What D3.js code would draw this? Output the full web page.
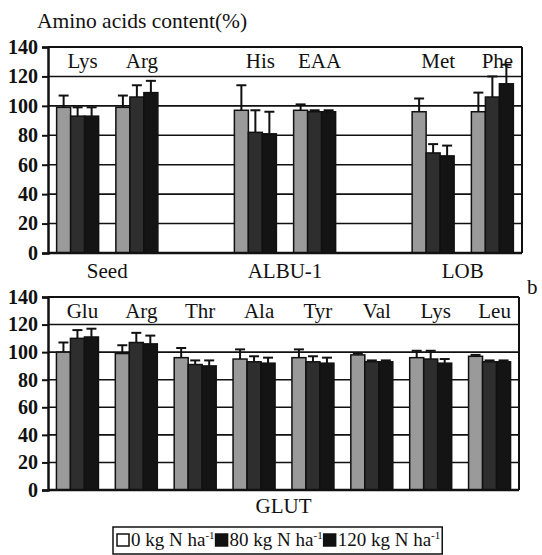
<!DOCTYPE html>
<html>
<head>
<style>
  body { margin: 0; background: #fff; }
  text { font-family: "Liberation Serif", "Times New Roman", serif; fill: #111; }
</style>
<script src="https://d3js.org/d3.v7.min.js"></script>
</head>
<body>
<svg id="chart" width="542" height="555"></svg>
<script>
// series (nitrogen rates)
var seriesNames = ["0 kg N ha", "80 kg N ha", "120 kg N ha"];
var seriesFill = ["#9a9a9a", "#2e2e2e", "#141414"];

// panel a - groups and amino acids
var topGroups = ["Seed", "ALBU-1", "LOB"];
var topCats = ["Lys", "Arg", "His", "EAA", "Met", "Phe"];
var topGroupOf = ["Seed", "Seed", "ALBU-1", "ALBU-1", "LOB", "LOB"];
var top0 = [99, 99, 97, 97, 96, 96];
var top80 = [93, 106, 82, 96, 68, 106];
var top120 = [93, 109, 81, 96, 66, 115];
var topErr0 = [8, 8, 17, 4, 9, 13];
var topErr80 = [6, 8, 15, 1, 6, 14];
var topErr120 = [6, 8, 15, 1, 7, 13];

// panel b - GLUT
var botGroups = ["GLUT"];
var botCats = ["Glu", "Arg", "Thr", "Ala", "Tyr", "Val", "Lys", "Leu"];
var bot0 = [100, 99, 96, 95, 96, 98, 96, 97];
var bot80 = [110, 107, 91, 93, 93, 93, 95, 93];
var bot120 = [111, 106, 90, 92, 92, 93, 92, 93];
var botErr0 = [7, 6, 7, 7, 6, 1, 5, 1];
var botErr80 = [6, 7, 3, 4, 4, 1, 6, 1];
var botErr120 = [6, 6, 4, 4, 4, 1, 3, 1];

var yTicks = [0, 20, 40, 60, 80, 100, 120, 140];
var serif = "'Liberation Serif', 'Times New Roman', serif";

var svg = d3.select("#chart");

svg.append("text")
  .attr("x", 37).attr("y", 28)
  .style("font-family", serif).style("font-size", "21.5px")
  .text("Amino acids content(%)");

function drawPanel(opt) {
  // slots: categories with an empty slot between groups
  var slots = [];
  opt.cats.forEach(function(c, i) {
    if (i > 0 && opt.groupOf[i] !== opt.groupOf[i - 1]) slots.push("gap" + i);
    slots.push(c + i);
  });
  var x = d3.scaleBand().domain(slots).range([opt.x0, opt.x1]);
  var y = d3.scaleLinear().domain([0, 140]).range([opt.yb, opt.yt]);
  var groupW = 42;
  var inner = d3.scaleBand().domain([0, 1, 2])
    .range([(x.bandwidth() - groupW) / 2, (x.bandwidth() + groupW) / 2]);

  var g = svg.append("g");

  // gridlines / frame
  g.selectAll(".grid").data(yTicks.slice(1)).enter().append("line")
    .attr("x1", opt.x0).attr("x2", opt.x1)
    .attr("y1", function(d) { return y(d); }).attr("y2", function(d) { return y(d); })
    .attr("stroke", "#111").attr("stroke-width", function(d) { return d === 140 ? 2 : 1.6; });
  g.append("line").attr("x1", opt.x1).attr("x2", opt.x1)
    .attr("y1", y(140)).attr("y2", y(0)).attr("stroke", "#111").attr("stroke-width", 2);

  // bars
  var vals = [opt.v0, opt.v1, opt.v2];
  var errs = [opt.e0, opt.e1, opt.e2];
  opt.cats.forEach(function(c, i) {
    var bx = x(c + i);
    [0, 1, 2].forEach(function(s) {
      var v = vals[s][i], e = errs[s][i];
      var cx = bx + inner(s) + inner.bandwidth() / 2;
      g.append("line").attr("x1", cx).attr("x2", cx)
        .attr("y1", y(v)).attr("y2", y(v + e))
        .attr("stroke", "#111").attr("stroke-width", 2);
      g.append("line").attr("x1", cx - 5).attr("x2", cx + 5)
        .attr("y1", y(v + e)).attr("y2", y(v + e))
        .attr("stroke", "#111").attr("stroke-width", 2);
      g.append("rect")
        .attr("x", bx + inner(s)).attr("width", inner.bandwidth())
        .attr("y", y(v)).attr("height", y(0) - y(v))
        .attr("fill", seriesFill[s]).attr("stroke", "#111").attr("stroke-width", 1.5);
    });
    g.append("text")
      .attr("x", bx + x.bandwidth() / 2 + 5).attr("y", y(140) + 21)
      .attr("text-anchor", "middle")
      .style("font-family", serif).style("font-size", "21px")
      .text(c);
  });

  // group labels
  opt.groups.forEach(function(gr) {
    var idx = opt.cats.map(function(c, i) { return i; })
      .filter(function(i) { return opt.groupOf[i] === gr; });
    var a = x(opt.cats[idx[0]] + idx[0]);
    var b = x(opt.cats[idx[idx.length - 1]] + idx[idx.length - 1]) + x.bandwidth();
    g.append("text")
      .attr("x", (a + b) / 2).attr("y", opt.labelY)
      .attr("text-anchor", "middle")
      .style("font-family", serif).style("font-size", "21px")
      .text(gr);
  });

  // y axis
  var ax = d3.axisLeft(y).tickValues(yTicks).tickSize(6).tickPadding(4);
  var axg = g.append("g").attr("transform", "translate(" + opt.x0 + ",0)").call(ax);
  axg.select(".domain").attr("stroke", "#111").attr("stroke-width", 2.5);
  axg.selectAll(".tick line").attr("stroke", "#111").attr("stroke-width", 2);
  axg.selectAll(".tick text")
    .style("font-family", serif)
    .style("font-size", "20px").style("font-weight", "bold").attr("fill", "#111");
  // x baseline
  g.append("line").attr("x1", opt.x0).attr("x2", opt.x1)
    .attr("y1", y(0)).attr("y2", y(0)).attr("stroke", "#111").attr("stroke-width", 2.5);
}

drawPanel({
  cats: topCats, groupOf: topGroupOf, groups: topGroups,
  v0: top0, v1: top80, v2: top120, e0: topErr0, e1: topErr80, e2: topErr120,
  x0: 48, x1: 522, yb: 253, yt: 47, labelY: 278
});

drawPanel({
  cats: botCats, groupOf: botCats.map(function() { return "GLUT"; }), groups: botGroups,
  v0: bot0, v1: bot80, v2: bot120, e0: botErr0, e1: botErr80, e2: botErr120,
  x0: 48, x1: 519, yb: 490, yt: 297, labelY: 513
});

svg.append("text").attr("x", 527).attr("y", 294)
  .style("font-family", serif).style("font-size", "21px").text("b");

// legend
var leg = svg.append("g");
var lx = 117, ly = 546;
seriesNames.forEach(function(name, i) {
  leg.append("rect")
    .attr("x", lx).attr("y", ly - 12).attr("width", 12).attr("height", 12)
    .attr("fill", i === 0 ? "#fff" : "#111").attr("stroke", "#111").attr("stroke-width", 1.5);
  lx += 14;
  var t = leg.append("text").attr("x", lx).attr("y", ly)
    .style("font-family", serif).style("font-size", "19px");
  t.append("tspan").text(name);
  t.append("tspan").attr("dy", -7).style("font-size", "11px").text("-1");
  lx += t.node().getComputedTextLength() + 1;
});
leg.insert("rect", ":first-child")
  .attr("x", 113).attr("y", 527).attr("width", lx - 113 + 1).attr("height", 27)
  .attr("fill", "none").attr("stroke", "#111").attr("stroke-width", 1.5);
</script>
</body>
</html>
